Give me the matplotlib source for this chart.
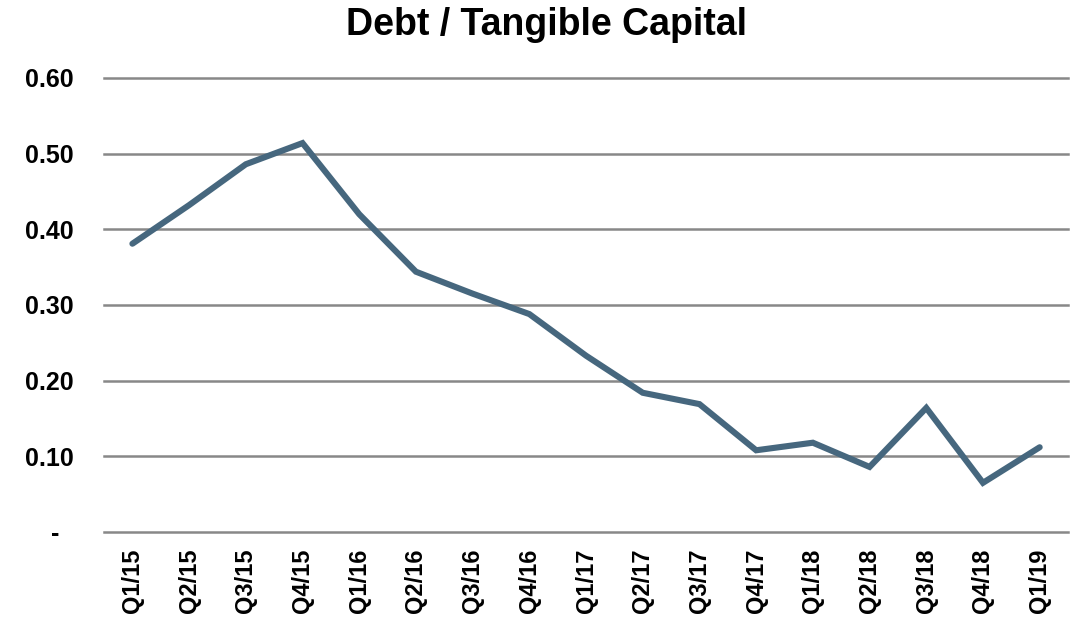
import matplotlib
matplotlib.use("Agg")
import matplotlib.pyplot as plt
from matplotlib.ticker import FixedLocator, FixedFormatter

plt.rcParams['font.family'] = ['Liberation Sans', 'DejaVu Sans']

quarters = ["Q1/15", "Q2/15", "Q3/15", "Q4/15", "Q1/16", "Q2/16", "Q3/16", "Q4/16",
            "Q1/17", "Q2/17", "Q3/17", "Q4/17", "Q1/18", "Q2/18", "Q3/18", "Q4/18", "Q1/19"]
values = [0.381, 0.432, 0.486, 0.514, 0.420, 0.344, 0.315, 0.288,
          0.233, 0.184, 0.169, 0.108, 0.118, 0.086, 0.164, 0.065, 0.112]
yticks = [0.0, 0.1, 0.2, 0.3, 0.4, 0.5, 0.6]
ytick_labels = ["-  ", "0.10", "0.20", "0.30", "0.40", "0.50", "0.60"]

fig = plt.figure(figsize=(10.76, 6.22), dpi=100)
ax = fig.add_axes([0.0967, 0.1447, 0.8959, 0.7299])

x = list(range(len(quarters)))
ax.plot(x, values, color="#46677e", linewidth=4.4, solid_capstyle="round", solid_joinstyle="miter", zorder=3)

ax.set_xlim(-0.5, len(quarters) - 0.5)
ax.set_ylim(0, 0.6)
ax.yaxis.set_major_locator(FixedLocator(yticks))
ax.yaxis.set_major_formatter(FixedFormatter(ytick_labels))
ax.set_xticks(x)
ax.set_xticklabels(quarters, rotation=90, fontsize=17, fontweight="bold")
for lab in ax.get_yticklabels():
    lab.set_fontsize(18)
    lab.set_fontweight("bold")

ax.grid(axis="y", color="#888888", linewidth=1.8)
for gl in ax.get_ygridlines():
    gl.set_clip_on(False)
ax.set_axisbelow(True)
for s in ax.spines.values():
    s.set_visible(False)
ax.tick_params(axis="both", length=0)
ax.tick_params(axis="y", pad=22)
ax.tick_params(axis="x", pad=12)

fig.text(0.508, 0.96, "Debt / Tangible Capital", ha="center", va="center",
         fontsize=27, fontweight="bold")

fig.savefig("out.png", dpi=100)
